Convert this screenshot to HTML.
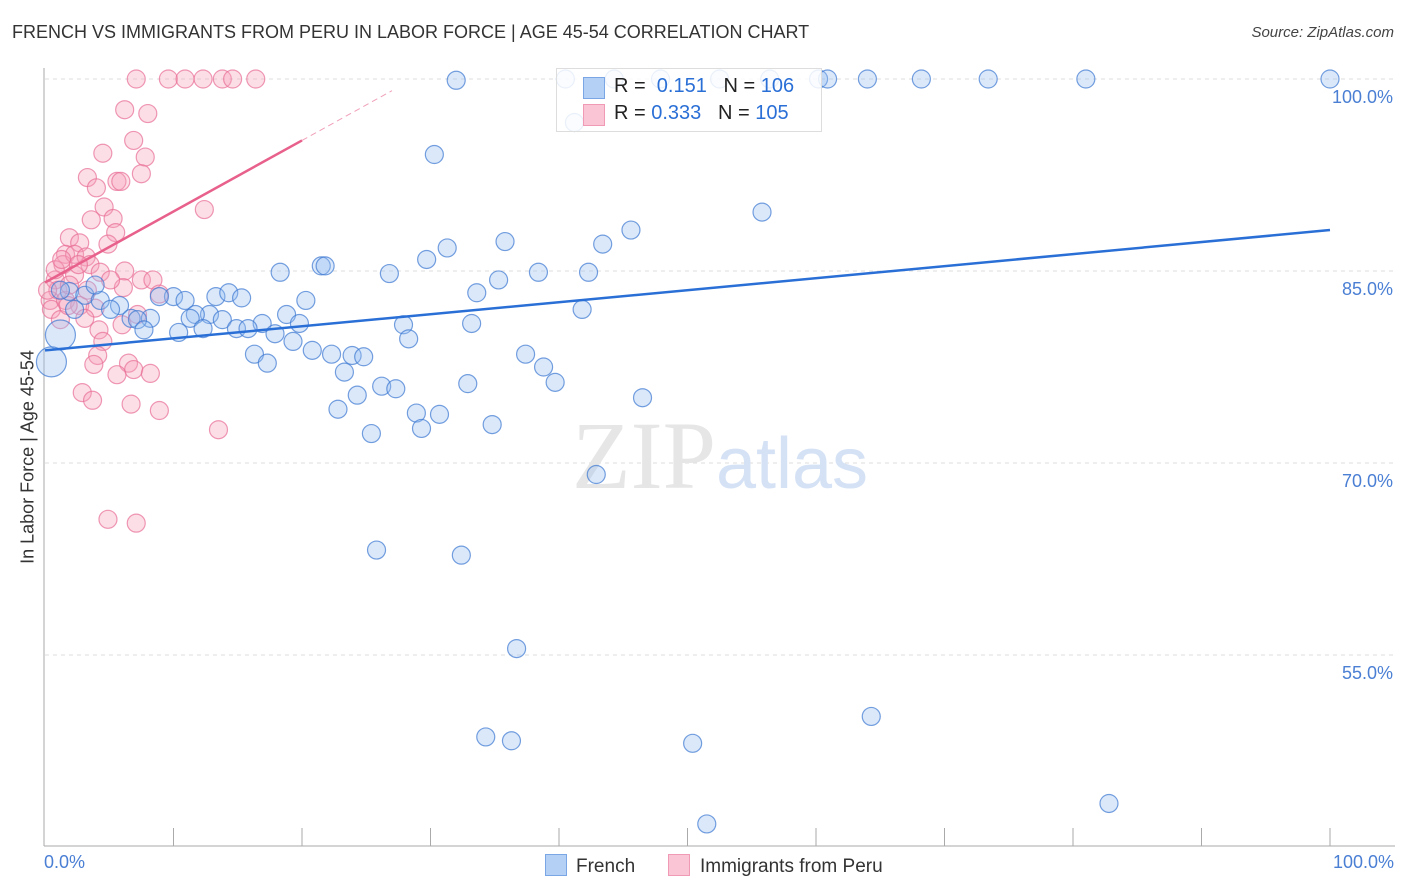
<!DOCTYPE html>
<html><head><meta charset="utf-8"><style>
body{margin:0;background:#fff;font-family:"Liberation Sans",sans-serif;}
#wrap{position:relative;width:1406px;height:892px;overflow:hidden;}
</style></head><body>
<div id="wrap">
<div style="position:absolute;left:12px;top:22px;font-size:18px;color:#333;">FRENCH VS IMMIGRANTS FROM PERU IN LABOR FORCE | AGE 45-54 CORRELATION CHART</div>
<div style="position:absolute;right:12px;top:24px;font-size:15px;color:#444;font-style:italic;">Source: ZipAtlas.com</div>
<svg id="svg" width="1406" height="892" style="position:absolute;left:0;top:0"></svg>
</div>
<script>
const blueX=[32.0,40.5,44.3,47.9,52.5,56.4,60.2,60.9,64.0,68.2,73.4,81.0,100,41.2,30.3,55.8,45.6,43.4,35.8,31.3,29.7,21.5,21.8,18.3,38.4,42.3,26.8,35.3,33.6,13.3,14.3,15.3,10.0,8.9,10.9,20.3,5.8,41.8,18.8,12.8,11.7,11.3,8.2,6.7,7.2,13.8,16.9,14.9,15.8,19.8,7.7,10.4,12.3,33.2,27.9,17.9,19.3,28.3,20.8,16.3,22.3,23.9,24.8,37.4,17.3,38.8,23.3,39.7,26.2,27.3,32.9,24.3,46.5,22.8,28.9,30.7,29.3,34.8,25.4,42.9,25.8,32.4,36.7,64.3,34.3,36.3,50.4,82.8,51.5,1.2,0.5,1.9,3.1,4.3,3.9,1.2,2.3,5.1];
const blueY=[99.9,100,100,100,100,100,100,100,100,100,100,100,100,96.6,94.1,89.6,88.2,87.1,87.3,86.8,85.9,85.4,85.4,84.9,84.9,84.9,84.8,84.3,83.3,83.0,83.3,82.9,83.0,83.0,82.7,82.7,82.3,82.0,81.6,81.6,81.6,81.3,81.3,81.3,81.2,81.2,80.9,80.5,80.5,80.9,80.4,80.2,80.5,80.9,80.8,80.1,79.5,79.7,78.8,78.5,78.5,78.4,78.3,78.5,77.8,77.5,77.1,76.3,76.0,75.8,76.2,75.3,75.1,74.2,73.9,73.8,72.7,73.0,72.3,69.1,63.2,62.8,55.5,50.2,48.6,48.3,48.1,43.4,41.8,80.0,77.9,83.4,83.1,82.7,83.9,83.5,82.0,82.0];
const pinkX=[7.1,9.6,10.9,12.3,13.8,14.6,16.4,6.2,8.0,6.9,7.8,4.5,3.3,4.0,5.6,5.9,7.5,4.6,5.3,12.4,3.6,5.5,4.9,1.9,2.7,1.6,1.4,2.3,3.2,3.5,4.3,6.2,7.5,8.4,6.1,8.9,0.8,1.0,0.4,0.5,1.6,2.7,3.9,3.1,1.2,4.2,6.0,7.2,4.5,4.1,3.8,6.5,6.9,8.2,5.6,2.9,3.7,6.7,8.9,13.5,4.9,7.1,2.3,1.9,0.2,0.8,1.3,2.6,3.3,5.1,1.8];
const pinkY=[100,100,100,100,100,100,100,97.6,97.3,95.2,93.9,94.2,92.3,91.5,92.0,92.0,92.6,90.0,89.1,89.8,89.0,88.0,87.1,87.6,87.2,86.3,85.5,86.3,86.1,85.5,84.9,85.0,84.3,84.3,83.7,83.2,84.3,83.5,82.7,82.0,82.7,82.3,82.1,81.3,81.2,80.4,80.8,81.6,79.5,78.4,77.7,77.8,77.3,77.0,76.9,75.5,74.9,74.6,74.1,72.6,65.6,65.3,84.7,83.9,83.5,85.1,85.9,85.5,83.5,84.3,82.3];
const blueTrend=[78.8,88.2];
const pinkTrend=[84.1,95.2];
const yTicks=[100,85,70,55];
const svg=document.getElementById('svg');
const NS='http://www.w3.org/2000/svg';
const X=v=>45+v*12.85, Y=v=>79+(100-v)*12.8;
function mk(t,a){const e=document.createElementNS(NS,t);for(const k in a)e.setAttribute(k,a[k]);svg.appendChild(e);return e;}
yTicks.forEach(t=>{const g=mk('line',{x1:45,x2:1395,y1:Y(t),y2:Y(t),stroke:'#ddd','stroke-dasharray':'4,4'});


const l=mk('text',{x:1393,y:Y(t)+24,'text-anchor':'end','font-size':18,fill:'#4a7fd4','font-family':'Liberation Sans'});l.textContent=t.toFixed(1)+'%';

});
const ax=mk('line',{x1:44,x2:44,y1:68,y2:846,stroke:'#aaa'});


const bx=mk('line',{x1:44,x2:1395,y1:846,y2:846,stroke:'#aaa'});


for(let i=1;i<=10;i++){const t=mk('line',{x1:X(i*10),x2:X(i*10),y1:828,y2:846,stroke:'#aaa'});

}
const wm=mk('text',{x:720,y:488,'text-anchor':'middle','font-size':96,fill:'#e6e6e6','font-family':'Liberation Serif'});wm.innerHTML='ZIP<tspan fill="#d5e2f5" font-family="Liberation Sans" font-size="72">atlas</tspan>';


pinkX.forEach((x,i)=>{const c=mk('circle',{cx:X(x),cy:Y(pinkY[i]),r:9,fill:'rgba(247,160,185,0.35)',stroke:'rgba(232,110,150,0.7)','stroke-width':1.2});

});
blueX.forEach((x,i)=>{const big=i>=blueX.length-9&&i<blueX.length-7;const c=mk('circle',{cx:X(x),cy:Y(blueY[i]),r:big?15:9,fill:'rgba(150,190,240,0.35)',stroke:'rgba(60,120,210,0.7)','stroke-width':1.2});

});
const bl=mk('line',{x1:X(0),y1:Y(blueTrend[0]),x2:X(100),y2:Y(blueTrend[1]),stroke:'#2a6fd6','stroke-width':2.5});


const slope=(pinkTrend[1]-pinkTrend[0])/20;
const pl=mk('line',{x1:X(0),y1:Y(pinkTrend[0]),x2:X(20),y2:Y(pinkTrend[1]),stroke:'#e8608c','stroke-width':2.5});


const pd=mk('line',{x1:X(20),y1:Y(pinkTrend[1]),x2:X(27),y2:Y(pinkTrend[0]+slope*27),stroke:'#f0a0b8','stroke-width':1,'stroke-dasharray':'6,4'});


</script>
<div style="position:absolute;left:28px;top:457px;transform:translate(-50%,-50%) rotate(-90deg);font-size:18px;color:#333;white-space:nowrap;">In Labor Force | Age 45-54</div>
<div style="position:absolute;left:44px;top:852px;font-size:18px;color:#4a7fd4;">0.0%</div>
<div style="position:absolute;right:12px;top:852px;font-size:18px;color:#4a7fd4;">100.0%</div>
<div style="position:absolute;left:556px;top:68px;width:264px;height:62px;background:rgba(255,255,255,0.85);border:1px solid #ddd;font-size:20px;color:#222;">
<div style="position:absolute;left:26px;top:8px;width:20px;height:20px;background:#b5d0f5;border:1px solid #7aa6e6;"></div>
<div style="position:absolute;left:57px;top:6px;">R = &nbsp;<span style="color:#2a6fd6">0.151</span>&nbsp;&nbsp; N = <span style="color:#2a6fd6">106</span></div>
<div style="position:absolute;left:26px;top:35px;width:20px;height:20px;background:#fac5d5;border:1px solid #f09ab5;"></div>
<div style="position:absolute;left:57px;top:33px;">R = <span style="color:#2a6fd6">0.333</span>&nbsp;&nbsp; N = <span style="color:#2a6fd6">105</span></div>
</div>
<div style="position:absolute;left:545px;top:854px;font-size:19px;color:#333;"><span style="display:inline-block;width:20px;height:20px;background:#b5d0f5;border:1px solid #7aa6e6;vertical-align:-4px;margin-right:9px;"></span>French</div>
<div style="position:absolute;left:668px;top:854px;font-size:19px;color:#333;"><span style="display:inline-block;width:20px;height:20px;background:#fac5d5;border:1px solid #f09ab5;vertical-align:-4px;margin-right:10px;"></span>Immigrants from Peru</div>
</body></html>
